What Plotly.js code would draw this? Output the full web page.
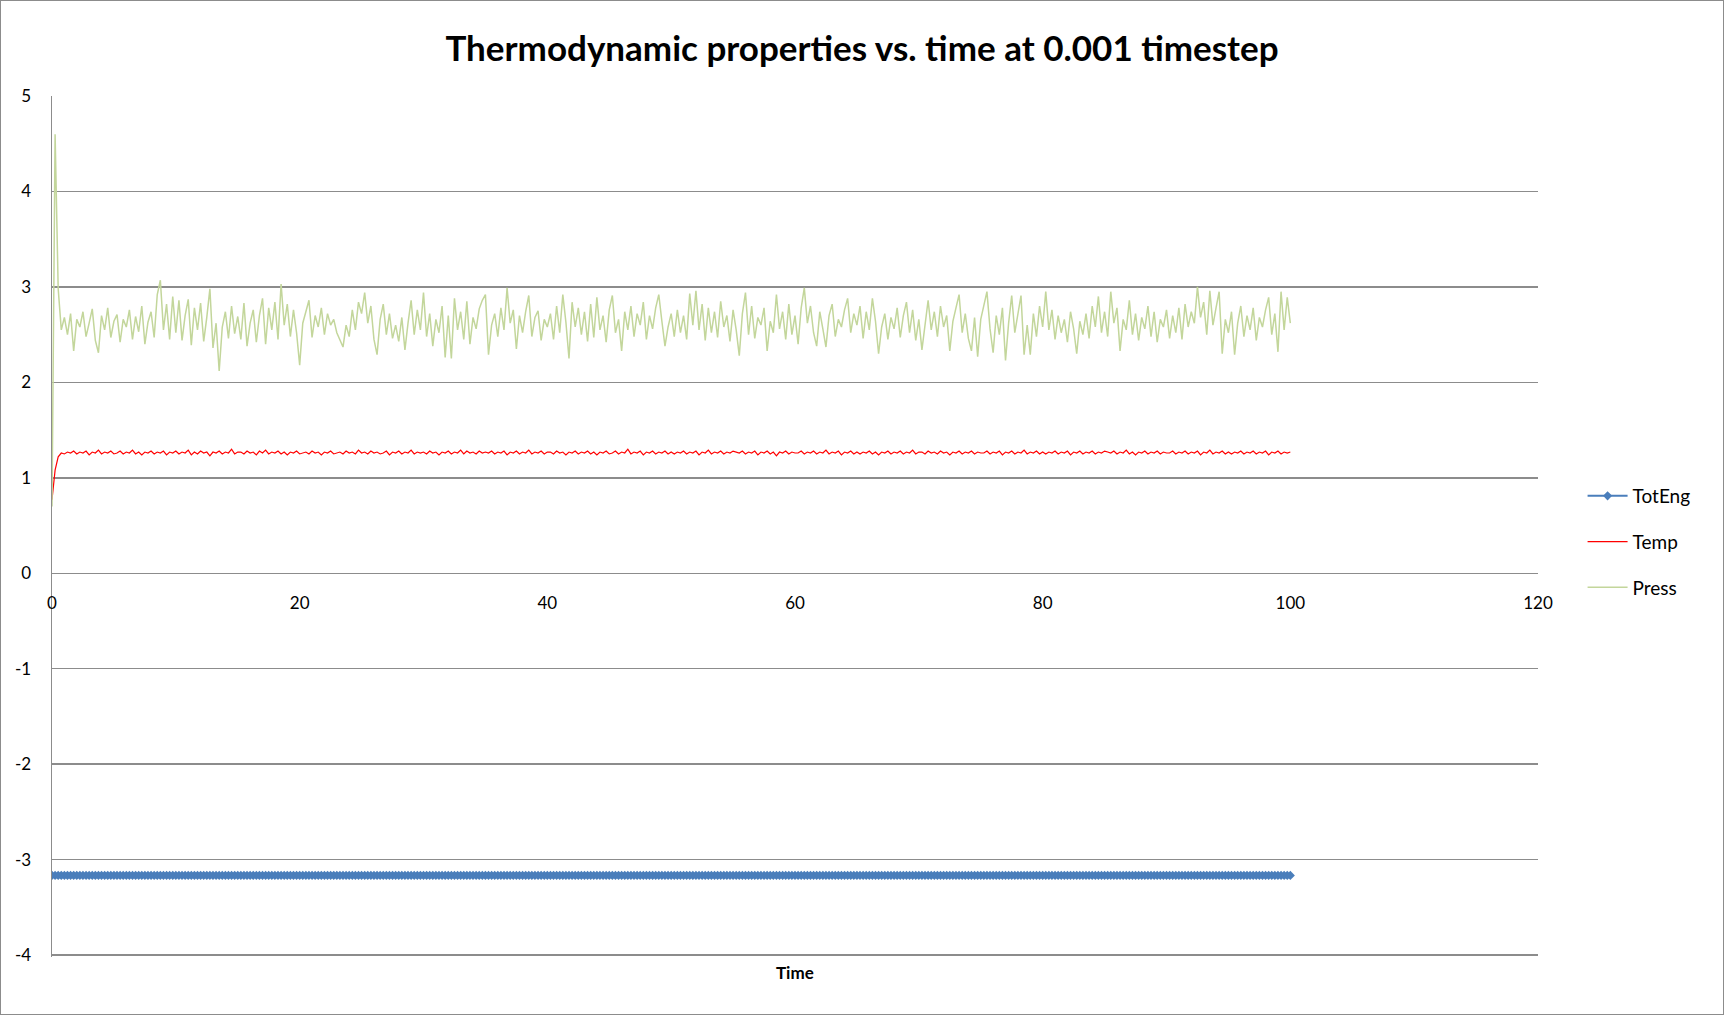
<!DOCTYPE html>
<html>
<head>
<meta charset="utf-8">
<script src="https://cdn.plot.ly/plotly-3.0.1.min.js"></script>
<style>
  body { margin: 0; background: #fff; }
  #chart { width: 1722px; height: 1013px; border: 1px solid #8c8c8c; }
</style>
</head>
<body>
<div id="chart"></div>
<script>
// all three series are sampled every 0.25 time units, starting at t = 0
var step = 0.25;

var press = [
  0.70, 4.60, 2.98, 2.55, 2.68, 2.50, 2.72, 2.33, 2.66, 2.58, 2.74, 2.48, 2.62, 2.77, 2.44, 2.31, 2.70, 2.55, 2.78, 2.47, 2.64,
  2.71, 2.42, 2.66, 2.58, 2.76, 2.45, 2.69, 2.53, 2.80, 2.40, 2.63, 2.74, 2.47, 2.92, 3.07, 2.55, 2.82, 2.45, 2.90, 2.52,
  2.86, 2.44, 2.70, 2.87, 2.39, 2.78, 2.55, 2.83, 2.43, 2.68, 2.98, 2.36, 2.62, 2.12, 2.58, 2.74, 2.46, 2.80, 2.51, 2.69,
  2.45, 2.83, 2.38, 2.62, 2.76, 2.42, 2.70, 2.88, 2.40, 2.78, 2.55, 2.84, 2.45, 3.03, 2.60, 2.82, 2.48, 2.76, 2.52, 2.18,
  2.62, 2.74, 2.86, 2.47, 2.70, 2.58, 2.78, 2.50, 2.72, 2.60, 2.66, 2.52, 2.44, 2.37, 2.60, 2.48, 2.76, 2.55, 2.84, 2.72,
  2.94, 2.62, 2.80, 2.45, 2.29, 2.66, 2.82, 2.50, 2.72, 2.46, 2.60, 2.43, 2.68, 2.34, 2.62, 2.86, 2.50, 2.76, 2.55, 2.94,
  2.48, 2.72, 2.38, 2.66, 2.52, 2.80, 2.26, 2.70, 2.25, 2.88, 2.55, 2.74, 2.45, 2.85, 2.40, 2.68, 2.56, 2.77, 2.86, 2.92,
  2.29, 2.60, 2.72, 2.48, 2.78, 2.55, 2.99, 2.62, 2.76, 2.35, 2.70, 2.52, 2.74, 2.91, 2.48, 2.68, 2.75, 2.44, 2.66, 2.58,
  2.72, 2.45, 2.80, 2.52, 2.92, 2.63, 2.25, 2.84, 2.58, 2.78, 2.50, 2.74, 2.43, 2.82, 2.47, 2.89, 2.55, 2.70, 2.42, 2.76,
  2.91, 2.52, 2.66, 2.33, 2.74, 2.55, 2.80, 2.48, 2.72, 2.60, 2.84, 2.45, 2.70, 2.56, 2.78, 2.92, 2.64, 2.38, 2.58, 2.72,
  2.48, 2.76, 2.52, 2.70, 2.45, 2.93, 2.60, 2.96, 2.55, 2.82, 2.44, 2.78, 2.52, 2.74, 2.47, 2.85, 2.58, 2.70, 2.43, 2.76,
  2.55, 2.28, 2.72, 2.94, 2.50, 2.80, 2.46, 2.68, 2.60, 2.78, 2.33, 2.64, 2.52, 2.92, 2.56, 2.74, 2.45, 2.82, 2.50, 2.70,
  2.40, 2.78, 2.99, 2.62, 2.80, 2.52, 2.38, 2.74, 2.56, 2.37, 2.70, 2.82, 2.48, 2.66, 2.58, 2.76, 2.88, 2.52, 2.72, 2.60,
  2.80, 2.46, 2.74, 2.55, 2.88, 2.64, 2.30, 2.58, 2.72, 2.45, 2.68, 2.56, 2.78, 2.47, 2.70, 2.84, 2.52, 2.76, 2.44, 2.66,
  2.34, 2.62, 2.86, 2.55, 2.74, 2.48, 2.80, 2.58, 2.70, 2.33, 2.64, 2.78, 2.92, 2.52, 2.72, 2.46, 2.33, 2.68, 2.27, 2.66,
  2.80, 2.95, 2.56, 2.31, 2.70, 2.50, 2.78, 2.23, 2.62, 2.91, 2.52, 2.74, 2.91, 2.29, 2.60, 2.29, 2.72, 2.48, 2.80, 2.58,
  2.95, 2.55, 2.76, 2.45, 2.70, 2.52, 2.66, 2.42, 2.74, 2.56, 2.30, 2.64, 2.50, 2.72, 2.46, 2.80, 2.58, 2.90, 2.52, 2.74,
  2.48, 2.95, 2.62, 2.78, 2.33, 2.66, 2.55, 2.86, 2.50, 2.72, 2.44, 2.68, 2.56, 2.80, 2.48, 2.74, 2.42, 2.66, 2.58, 2.76,
  2.46, 2.70, 2.52, 2.78, 2.45, 2.82, 2.58, 2.74, 2.62, 3.00, 2.68, 2.84, 2.50, 2.96, 2.60, 2.78, 2.95, 2.30, 2.66, 2.52,
  2.74, 2.29, 2.62, 2.80, 2.48, 2.70, 2.55, 2.78, 2.44, 2.68, 2.58, 2.76, 2.89, 2.50, 2.72, 2.32, 2.95, 2.55, 2.89, 2.62
];

var temp = [
  0.77, 1.08, 1.22, 1.26, 1.25, 1.27, 1.26, 1.28, 1.25, 1.27, 1.26, 1.28, 1.24, 1.27, 1.26, 1.29, 1.25, 1.27, 1.26, 1.28, 1.25,
  1.26, 1.28, 1.25, 1.27, 1.26, 1.29, 1.25, 1.27, 1.24, 1.27, 1.26, 1.28, 1.25, 1.27, 1.26, 1.28, 1.24, 1.27, 1.26, 1.28,
  1.25, 1.27, 1.26, 1.29, 1.24, 1.27, 1.25, 1.28, 1.26, 1.27, 1.23, 1.27, 1.26, 1.28, 1.25, 1.27, 1.26, 1.30, 1.25, 1.27,
  1.27, 1.25, 1.28, 1.26, 1.27, 1.24, 1.28, 1.26, 1.29, 1.25, 1.27, 1.26, 1.28, 1.25, 1.27, 1.24, 1.27, 1.26, 1.28, 1.25,
  1.26, 1.27, 1.25, 1.28, 1.26, 1.27, 1.24, 1.27, 1.26, 1.28, 1.25, 1.26, 1.27, 1.25, 1.28, 1.26, 1.27, 1.25, 1.29, 1.26,
  1.27, 1.25, 1.28, 1.26, 1.27, 1.25, 1.26, 1.28, 1.24, 1.27, 1.26, 1.28, 1.25, 1.27, 1.26, 1.29, 1.25, 1.27, 1.26, 1.27,
  1.25, 1.28, 1.26, 1.27, 1.24, 1.27, 1.26, 1.28, 1.25, 1.27, 1.26, 1.29, 1.25, 1.28, 1.26, 1.27, 1.25, 1.28, 1.26, 1.27,
  1.26, 1.28, 1.25, 1.27, 1.26, 1.28, 1.24, 1.27, 1.26, 1.28, 1.25, 1.27, 1.26, 1.29, 1.25, 1.27, 1.26, 1.28, 1.25, 1.27,
  1.27, 1.25, 1.28, 1.26, 1.27, 1.24, 1.27, 1.26, 1.28, 1.25, 1.27, 1.26, 1.28, 1.25, 1.27, 1.24, 1.27, 1.26, 1.28, 1.25,
  1.26, 1.28, 1.25, 1.27, 1.26, 1.30, 1.25, 1.27, 1.26, 1.28, 1.24, 1.27, 1.26, 1.28, 1.25, 1.27, 1.26, 1.28, 1.25, 1.27,
  1.25, 1.27, 1.26, 1.28, 1.25, 1.27, 1.26, 1.28, 1.24, 1.27, 1.26, 1.29, 1.25, 1.27, 1.26, 1.28, 1.25, 1.27, 1.26, 1.28,
  1.27, 1.26, 1.28, 1.25, 1.27, 1.26, 1.28, 1.24, 1.27, 1.26, 1.28, 1.25, 1.27, 1.23, 1.27, 1.26, 1.28, 1.25, 1.27, 1.26,
  1.26, 1.28, 1.25, 1.27, 1.26, 1.28, 1.25, 1.27, 1.26, 1.29, 1.25, 1.27, 1.26, 1.28, 1.24, 1.27, 1.26, 1.28, 1.25, 1.27,
  1.25, 1.27, 1.26, 1.28, 1.25, 1.27, 1.24, 1.27, 1.26, 1.28, 1.25, 1.27, 1.26, 1.28, 1.25, 1.27, 1.26, 1.29, 1.25, 1.27,
  1.27, 1.25, 1.28, 1.26, 1.27, 1.25, 1.28, 1.26, 1.27, 1.24, 1.27, 1.26, 1.28, 1.25, 1.27, 1.26, 1.28, 1.25, 1.27, 1.26,
  1.26, 1.28, 1.25, 1.27, 1.26, 1.28, 1.24, 1.27, 1.26, 1.28, 1.25, 1.27, 1.26, 1.29, 1.25, 1.27, 1.26, 1.28, 1.25, 1.27,
  1.25, 1.27, 1.26, 1.28, 1.25, 1.27, 1.26, 1.28, 1.24, 1.27, 1.26, 1.28, 1.25, 1.27, 1.26, 1.28, 1.25, 1.27, 1.26, 1.28,
  1.27, 1.26, 1.28, 1.25, 1.27, 1.26, 1.29, 1.25, 1.27, 1.24, 1.27, 1.26, 1.28, 1.25, 1.27, 1.26, 1.28, 1.25, 1.27, 1.26,
  1.26, 1.28, 1.25, 1.27, 1.26, 1.28, 1.25, 1.27, 1.26, 1.28, 1.24, 1.27, 1.26, 1.29, 1.25, 1.27, 1.26, 1.28, 1.25, 1.27,
  1.25, 1.27, 1.26, 1.28, 1.25, 1.27, 1.26, 1.28, 1.25, 1.27, 1.26, 1.28, 1.24, 1.27, 1.26, 1.28, 1.25, 1.27, 1.26, 1.27
];

var totEng = [
  -3.165, -3.165, -3.165, -3.165, -3.165, -3.165, -3.165, -3.165, -3.165, -3.165, -3.165, -3.165, -3.165, -3.165, -3.165, -3.165, -3.165, -3.165, -3.165, -3.165, -3.165,
  -3.165, -3.165, -3.165, -3.165, -3.165, -3.165, -3.165, -3.165, -3.165, -3.165, -3.165, -3.165, -3.165, -3.165, -3.165, -3.165, -3.165, -3.165, -3.165, -3.165,
  -3.165, -3.165, -3.165, -3.165, -3.165, -3.165, -3.165, -3.165, -3.165, -3.165, -3.165, -3.165, -3.165, -3.165, -3.165, -3.165, -3.165, -3.165, -3.165, -3.165,
  -3.165, -3.165, -3.165, -3.165, -3.165, -3.165, -3.165, -3.165, -3.165, -3.165, -3.165, -3.165, -3.165, -3.165, -3.165, -3.165, -3.165, -3.165, -3.165, -3.165,
  -3.165, -3.165, -3.165, -3.165, -3.165, -3.165, -3.165, -3.165, -3.165, -3.165, -3.165, -3.165, -3.165, -3.165, -3.165, -3.165, -3.165, -3.165, -3.165, -3.165,
  -3.165, -3.165, -3.165, -3.165, -3.165, -3.165, -3.165, -3.165, -3.165, -3.165, -3.165, -3.165, -3.165, -3.165, -3.165, -3.165, -3.165, -3.165, -3.165, -3.165,
  -3.165, -3.165, -3.165, -3.165, -3.165, -3.165, -3.165, -3.165, -3.165, -3.165, -3.165, -3.165, -3.165, -3.165, -3.165, -3.165, -3.165, -3.165, -3.165, -3.165,
  -3.165, -3.165, -3.165, -3.165, -3.165, -3.165, -3.165, -3.165, -3.165, -3.165, -3.165, -3.165, -3.165, -3.165, -3.165, -3.165, -3.165, -3.165, -3.165, -3.165,
  -3.165, -3.165, -3.165, -3.165, -3.165, -3.165, -3.165, -3.165, -3.165, -3.165, -3.165, -3.165, -3.165, -3.165, -3.165, -3.165, -3.165, -3.165, -3.165, -3.165,
  -3.165, -3.165, -3.165, -3.165, -3.165, -3.165, -3.165, -3.165, -3.165, -3.165, -3.165, -3.165, -3.165, -3.165, -3.165, -3.165, -3.165, -3.165, -3.165, -3.165,
  -3.165, -3.165, -3.165, -3.165, -3.165, -3.165, -3.165, -3.165, -3.165, -3.165, -3.165, -3.165, -3.165, -3.165, -3.165, -3.165, -3.165, -3.165, -3.165, -3.165,
  -3.165, -3.165, -3.165, -3.165, -3.165, -3.165, -3.165, -3.165, -3.165, -3.165, -3.165, -3.165, -3.165, -3.165, -3.165, -3.165, -3.165, -3.165, -3.165, -3.165,
  -3.165, -3.165, -3.165, -3.165, -3.165, -3.165, -3.165, -3.165, -3.165, -3.165, -3.165, -3.165, -3.165, -3.165, -3.165, -3.165, -3.165, -3.165, -3.165, -3.165,
  -3.165, -3.165, -3.165, -3.165, -3.165, -3.165, -3.165, -3.165, -3.165, -3.165, -3.165, -3.165, -3.165, -3.165, -3.165, -3.165, -3.165, -3.165, -3.165, -3.165,
  -3.165, -3.165, -3.165, -3.165, -3.165, -3.165, -3.165, -3.165, -3.165, -3.165, -3.165, -3.165, -3.165, -3.165, -3.165, -3.165, -3.165, -3.165, -3.165, -3.165,
  -3.165, -3.165, -3.165, -3.165, -3.165, -3.165, -3.165, -3.165, -3.165, -3.165, -3.165, -3.165, -3.165, -3.165, -3.165, -3.165, -3.165, -3.165, -3.165, -3.165,
  -3.165, -3.165, -3.165, -3.165, -3.165, -3.165, -3.165, -3.165, -3.165, -3.165, -3.165, -3.165, -3.165, -3.165, -3.165, -3.165, -3.165, -3.165, -3.165, -3.165,
  -3.165, -3.165, -3.165, -3.165, -3.165, -3.165, -3.165, -3.165, -3.165, -3.165, -3.165, -3.165, -3.165, -3.165, -3.165, -3.165, -3.165, -3.165, -3.165, -3.165,
  -3.165, -3.165, -3.165, -3.165, -3.165, -3.165, -3.165, -3.165, -3.165, -3.165, -3.165, -3.165, -3.165, -3.165, -3.165, -3.165, -3.165, -3.165, -3.165, -3.165,
  -3.165, -3.165, -3.165, -3.165, -3.165, -3.165, -3.165, -3.165, -3.165, -3.165, -3.165, -3.165, -3.165, -3.165, -3.165, -3.165, -3.165, -3.165, -3.165, -3.165
];

// tick labels as Excel shows them (plain hyphen for negatives)
var xTickVals = [0, 20, 40, 60, 80, 100, 120];
var xTickText = ['0', '20', '40', '60', '80', '100', '120'];
var yTickVals = [5, 4, 3, 2, 1, 0, -1, -2, -3, -4];
var yTickText = ['5', '4', '3', '2', '1', '0', '-1', '-2', '-3', '-4'];

var gridGray = '#8c8c8c';
var font = 'Lato, "Open Sans", sans-serif';

var traceEng = {
  y: totEng, x0: 0, dx: step,
  name: 'TotEng', type: 'scatter', mode: 'lines+markers',
  line: {color: '#4a7ebb', width: 2},
  marker: {symbol: 'diamond', size: 7, color: '#4a7ebb'},
  legendgroup: 'a'
};

var traceTemp = {
  y: temp, x0: 0, dx: step,
  name: 'Temp', type: 'scatter', mode: 'lines',
  line: {color: '#ff0000', width: 1.2},
  legendgroup: 'b'
};

var tracePress = {
  y: press, x0: 0, dx: step,
  name: 'Press', type: 'scatter', mode: 'lines',
  line: {color: '#c3d69b', width: 1.5},
  legendgroup: 'c'
};

var layout = {
  width: 1722, height: 1013,
  margin: {l: 51, r: 185, t: 95, b: 57},
  paper_bgcolor: '#fff', plot_bgcolor: '#fff',
  font: {family: font, size: 17, color: '#000'},
  showlegend: true,
  title: {
    text: '<b>Thermodynamic properties vs. time at 0.001 timestep</b>',
    font: {family: font, size: 35, color: '#000'},
    xref: 'container', x: 0.5, xanchor: 'center',
    yref: 'container', y: 0.953, yanchor: 'middle'
  },
  xaxis: {
    range: [0, 120], tickvals: xTickVals, ticktext: xTickText,
    anchor: 'free', position: 4 / 9,
    showgrid: false, zeroline: false, showline: false,
    ticks: '', ticklabelstandoff: 17
  },
  yaxis: {
    range: [-4.02, 5], tickvals: yTickVals, ticktext: yTickText,
    showgrid: true, gridcolor: gridGray, gridwidth: 1.5,
    zeroline: false,
    showline: true, linecolor: gridGray, linewidth: 1.5,
    ticks: '', ticklabelstandoff: 16
  },
  legend: {
    x: 1.03, xanchor: 'left', y: 0.482, yanchor: 'middle',
    font: {family: font, size: 19},
    tracegroupgap: 18, itemwidth: 40
  },
  annotations: [{
    text: '<b>Time</b>', xref: 'paper', yref: 'paper',
    x: 0.5, y: 0, yshift: -15, yanchor: 'middle',
    showarrow: false, font: {family: font, size: 17}
  }]
};

Plotly.newPlot('chart', [traceEng, traceTemp, tracePress], layout, {staticPlot: true});
</script>
</body>
</html>
